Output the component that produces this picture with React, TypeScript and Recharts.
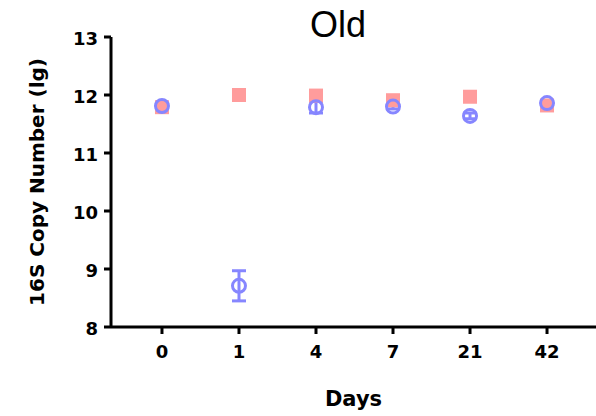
import {
  ErrorBar,
  Scatter,
  ScatterChart,
  XAxis,
  YAxis,
} from "recharts";

const days = ["0", "1", "4", "7", "21", "42"];
const redMean = [11.79, 12.0, 11.99, 11.91, 11.97, 11.82];
const redSd = [0.04, 0.04, 0.05, 0.04, 0.07, 0.03];
const blueMean = [11.81, 8.71, 11.79, 11.8, 11.64, 11.86];
const blueSd = [0.05, 0.26, 0.1, 0.04, 0.05, 0.04];
const yTicks = [8, 9, 10, 11, 12, 13];

const RED = "#FF9C9C";
const BLUE = "#8686FF";
const BOLD = "'DejaVu Sans', Arial, sans-serif";
const PLAIN = "'Liberation Sans', Arial, sans-serif";

const redRows = days.map((d, i) => ({ x: i, y: redMean[i], err: redSd[i] }));
const blueRows = days.map((d, i) => ({ x: i, y: blueMean[i], err: blueSd[i] }));

function Square(props: any) {
  const { cx, cy } = props;
  if (cx == null || cy == null) return null;
  return <rect x={cx - 7} y={cy - 7} width={14} height={14} fill={RED} />;
}

function Ring(props: any) {
  const { cx, cy } = props;
  if (cx == null || cy == null) return null;
  return <circle cx={cx} cy={cy} r={6.5} fill="none" stroke={BLUE} strokeWidth={3} />;
}

function Nothing() {
  return <g />;
}

function XTick(props: any) {
  const { x, y, payload } = props;
  return (
    <text x={x} y={y + 20} textAnchor="middle" fontSize={18} fontWeight={700} fontFamily={BOLD} fill="#000">
      {days[payload.value]}
    </text>
  );
}

function YTick(props: any) {
  const { x, y, payload } = props;
  return (
    <text x={x - 4} y={y + 7.5} textAnchor="end" fontSize={18} fontWeight={700} fontFamily={BOLD} fill="#000">
      {payload.value}
    </text>
  );
}

export default function App() {
  return (
    <div style={{ position: "absolute", left: 0, top: 0, width: 596, height: 416, background: "#fff" }}>
      <div
        style={{
          position: "absolute",
          left: 268,
          top: 4,
          width: 140,
          textAlign: "center",
          fontFamily: PLAIN,
          fontSize: 36,
          color: "#000",
        }}
      >
        Old
      </div>
      <ScatterChart width={596} height={416} margin={{ top: 37, right: 0, bottom: 0, left: 0 }}>
        <XAxis
          type="number"
          dataKey="x"
          domain={[-0.662, 5.636]}
          ticks={[0, 1, 2, 3, 4, 5]}
          allowDataOverflow
          height={89}
          axisLine={{ stroke: "#000", strokeWidth: 3 }}
          tickLine={{ stroke: "#000", strokeWidth: 3 }}
          tickSize={7}
          tickMargin={4}
          tick={XTick}
          label={{
            value: "Days",
            position: "insideBottom",
            offset: 10,
            fill: "#000",
            fontSize: 21,
            fontWeight: 700,
            fontFamily: BOLD,
          }}
        />
        <YAxis
          type="number"
          dataKey="y"
          domain={[8, 13]}
          ticks={yTicks}
          width={111}
          allowDataOverflow
          axisLine={{ stroke: "#000", strokeWidth: 3 }}
          tickLine={{ stroke: "#000", strokeWidth: 3 }}
          tickSize={7}
          tickMargin={2}
          tick={YTick}
          label={{
            value: "16S Copy Number (lg)",
            angle: -90,
            position: "insideLeft",
            offset: 41,
            dx: -4,
            style: { textAnchor: "middle" },
            fill: "#000",
            fontSize: 20,
            fontWeight: 700,
            fontFamily: BOLD,
          }}
        />
        <Scatter data={redRows} shape={Square} isAnimationActive={false} />
        <Scatter data={redRows} shape={Nothing} isAnimationActive={false}>
          <ErrorBar dataKey="err" direction="y" width={3} stroke="#fff" strokeWidth={1.5} />
        </Scatter>
        <Scatter data={blueRows} shape={Ring} isAnimationActive={false}>
          <ErrorBar dataKey="err" direction="y" width={7} stroke={BLUE} strokeWidth={3} />
        </Scatter>
      </ScatterChart>
    </div>
  );
}
